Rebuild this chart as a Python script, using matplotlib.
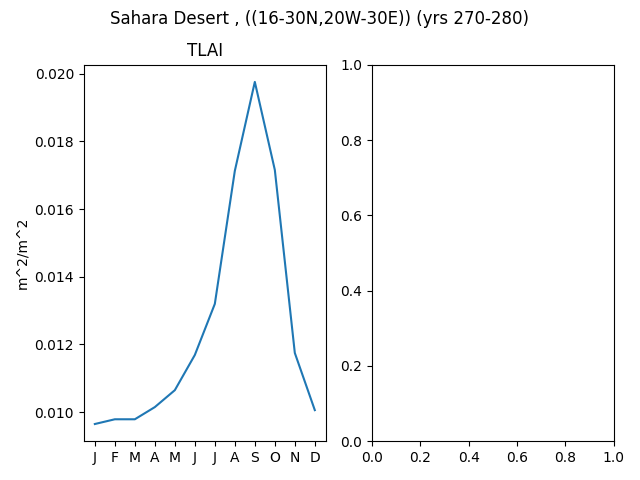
import matplotlib
matplotlib.use("Agg")
import matplotlib.pyplot as plt

months = ["J", "F", "M", "A", "M", "J", "J", "A", "S", "O", "N", "D"]
tlai = [0.00965, 0.00979, 0.00979, 0.01015, 0.01065, 0.01169,
        0.01320, 0.01713, 0.01976, 0.01716, 0.01175, 0.01006]

fig, axes = plt.subplots(1, 2, figsize=(6.4, 4.8))
fig.suptitle("Sahara Desert , ((16-30N,20W-30E)) (yrs 270-280)")

ax = axes[0]
ax.plot(range(len(tlai)), tlai)
ax.set_xticks(range(len(months)))
ax.set_xticklabels(months)
ax.set_title("TLAI")
ax.set_ylabel("m^2/m^2")

plt.subplots_adjust(left=0.131, right=0.959, top=0.865, bottom=0.081, wspace=0.19)
plt.savefig("out.png")
